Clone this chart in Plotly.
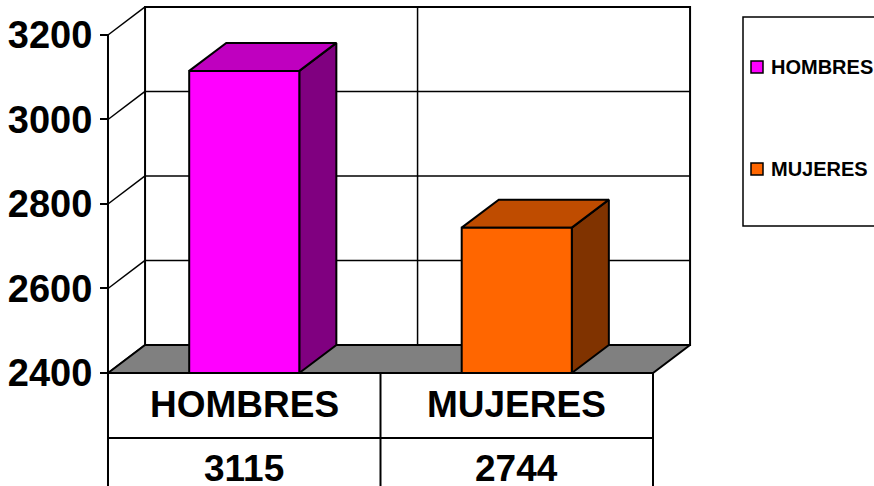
import plotly.graph_objects as go

# ---- data ----
categories = ["HOMBRES", "MUJERES"]
values = [3115, 2744]
face_colors = ["#FF00FF", "#FF6600"]
top_colors = ["#BF00BF", "#BF4C00"]
side_colors = ["#800080", "#803300"]
tick_values = [2400, 2600, 2800, 3000, 3200]

# ---- geometry (data units) ----
W, H = 874, 486
Y_MIN, Y_MAX = 2400, 3200
X_RANGE = [-0.8963, 2.311]
Y_RANGE = [2132.5, 3282.8]
DX, DY = 0.136, 66.3      # 3-D depth offset
BW = 0.404                # bar width
RH = 153.8                # data-table row height
FONT = "Arial, Liberation Sans, sans-serif"
n = len(categories)
XL, XR = -0.5, n - 0.5

fig = go.Figure()


def poly(xs, ys, fill, lw=1.5):
    fig.add_trace(go.Scatter(x=xs + [xs[0]], y=ys + [ys[0]], mode="lines",
                             fill="toself", fillcolor=fill,
                             line=dict(color="black", width=lw),
                             hoverinfo="skip", showlegend=False))


def line(xs, ys, lw=1.5):
    fig.add_trace(go.Scatter(x=xs, y=ys, mode="lines",
                             line=dict(color="black", width=lw),
                             hoverinfo="skip", showlegend=False))


# back wall
poly([XL + DX, XR + DX, XR + DX, XL + DX],
     [Y_MIN + DY, Y_MIN + DY, Y_MAX + DY, Y_MAX + DY], "white", 2)
for t in tick_values:
    line([XL + DX, XR + DX], [t + DY, t + DY])       # back gridlines
    line([XL, XL + DX], [t, t + DY])                  # side-wall lines
for i in range(1, n):
    line([i - 0.5 + DX, i - 0.5 + DX], [Y_MIN + DY, Y_MAX + DY])
# front-left axis line (continues down as table border)
line([XL, XL], [Y_MAX, Y_MIN - 2 * RH], 2)

# floor
poly([XL, XR, XR + DX, XL + DX], [Y_MIN, Y_MIN, Y_MIN + DY, Y_MIN + DY], "#808080", 2)

# bars
for i, v in enumerate(values):
    x0, x1 = i - BW / 2, i + BW / 2
    poly([x1, x1 + DX, x1 + DX, x1], [Y_MIN, Y_MIN + DY, v + DY, v], side_colors[i], 2)
    poly([x0, x1, x1 + DX, x0 + DX], [v, v, v + DY, v + DY], top_colors[i], 2)
    poly([x0, x1, x1, x0], [Y_MIN, Y_MIN, v, v], face_colors[i], 2)

# data table
line([XL, XR], [Y_MIN, Y_MIN], 2)
line([XL, XR], [Y_MIN - RH, Y_MIN - RH], 2)
for k in range(n + 1):
    line([k - 0.5, k - 0.5], [Y_MIN, Y_MIN - 2 * RH], 2)

annotations = []
for i, (c, v) in enumerate(zip(categories, values)):
    annotations.append(dict(x=i, y=Y_MIN - RH / 2 + 3, text=c, showarrow=False,
                            xref="x", yref="y",
                            font=dict(family=FONT, size=37, color="black", weight="bold")))
    annotations.append(dict(x=i, y=Y_MIN - 1.5 * RH + 5, text=str(v), showarrow=False,
                            xref="x", yref="y",
                            font=dict(family=FONT, size=37, color="black", weight="bold")))

# legend (manual, Excel-style)
def px(x):
    return x / W


def py(y):
    return 1 - y / H


shapes = [dict(type="rect", xref="paper", yref="paper",
               x0=px(743), x1=px(880), y0=py(226), y1=py(17),
               line=dict(color="black", width=1.5), fillcolor="rgba(0,0,0,0)")]
legend_y = [67, 169]
for i, c in enumerate(categories):
    yc = legend_y[i]
    shapes.append(dict(type="rect", xref="paper", yref="paper",
                       x0=px(751), x1=px(763), y0=py(yc + 6), y1=py(yc - 6),
                       line=dict(color="black", width=1.5), fillcolor=face_colors[i]))
    annotations.append(dict(x=px(769), y=py(yc), xref="paper", yref="paper",
                            text=c, showarrow=False, xanchor="left", yanchor="middle",
                            font=dict(family=FONT, size=20, color="black", weight="bold")))

fig.update_layout(
    width=W, height=H,
    margin=dict(l=0, r=0, t=0, b=0),
    paper_bgcolor="white", plot_bgcolor="white",
    showlegend=False,
    xaxis=dict(range=X_RANGE, visible=False, fixedrange=True),
    yaxis=dict(range=Y_RANGE, anchor="free", position=108 / W, side="left",
               tickvals=tick_values, ticktext=[str(t) for t in tick_values],
               ticks="outside", ticklen=8, tickwidth=2, tickcolor="black",
               showline=False, showgrid=False, zeroline=False, automargin=False,
               tickfont=dict(family=FONT, size=38, color="black", weight="bold"),
               fixedrange=True),
    shapes=shapes,
    annotations=annotations,
)

fig.write_html("out.html", config={"displayModeBar": False},
               post_script="document.body.style.margin='0';document.body.style.overflow='hidden';")
